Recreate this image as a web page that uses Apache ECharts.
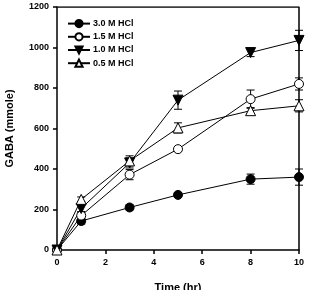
<!DOCTYPE html>
<html>
<head>
<meta charset="utf-8">
<script src="https://cdn.jsdelivr.net/npm/echarts@6/dist/echarts.min.js"></script>
<style>
  html, body { margin: 0; padding: 0; background: #fff; }
  #chart { width: 309px; height: 290px; }
</style>
</head>
<body>
<div id="chart"></div>
<script>
const times = [0, 1, 3, 5, 8, 10];
const seriesNames = ['3.0 M HCl', '1.5 M HCl', '1.0 M HCl', '0.5 M HCl'];
const hcl30 = [0, 143, 210, 272, 350, 360];
const hcl15 = [0, 170, 372, 498, 745, 820];
const hcl10 = [0, 205, 430, 740, 975, 1035];
const hcl05 = [0, 250, 440, 603, 688, 712];
const err30 = [0, 15, 12, 12, 25, 40];
const err15 = [0, 15, 25, 12, 45, 30];
const err10 = [0, 15, 25, 45, 20, 50];
const err05 = [0, 12, 25, 25, 15, 30];
const yTicks = [0, 200, 400, 600, 800, 1000, 1200];

const chart = echarts.init(document.getElementById('chart'));
const font = 'Liberation Sans, Arial, sans-serif';

// error bar with caps
function errorSeries(vals, errs) {
  const data = times.map((t, i) => [t, vals[i] - errs[i], vals[i] + errs[i]]);
  return {
    type: 'custom',
    silent: true,
    z: 1,
    data: data,
    renderItem: (params, api) => {
      const lo = api.coord([api.value(0), api.value(1)]);
      const hi = api.coord([api.value(0), api.value(2)]);
      const w = 4;
      const style = { stroke: '#000', lineWidth: 1 };
      return {
        type: 'group',
        children: [
          { type: 'line', shape: { x1: lo[0], y1: lo[1], x2: hi[0], y2: hi[1] }, style },
          { type: 'line', shape: { x1: lo[0] - w, y1: lo[1], x2: lo[0] + w, y2: lo[1] }, style },
          { type: 'line', shape: { x1: hi[0] - w, y1: hi[1], x2: hi[0] + w, y2: hi[1] }, style },
        ],
      };
    },
  };
}

function lineSeries(name, vals, symbol, filled, size) {
  return {
    name: name,
    type: 'line',
    data: times.map((t, i) => [t, vals[i]]),
    symbol: symbol,
    symbolSize: size,
    showAllSymbol: true,
    z: 3,
    lineStyle: { color: '#000', width: 1 },
    itemStyle: {
      color: filled ? '#000' : '#fff',
      borderColor: '#000',
      borderWidth: 1,
      opacity: 1,
    },
  };
}

const downTri = 'path://M0,0 L10,0 L5,9 Z';
const upTri = 'path://M5,0 L10,9 L0,9 Z';

const option = {
  animation: false,
  grid: { left: 57, right: 10, top: 7, bottom: 40, show: false, outerBoundsMode: 'none', containLabel: false },
  legend: {
    orient: 'vertical',
    left: 62,
    top: 14,
    itemWidth: 22,
    itemHeight: 9,
    itemGap: 4,
    data: seriesNames,
    textStyle: { fontFamily: font, fontSize: 9, fontWeight: 'bold', color: '#000', padding: [0, 0, 0, -2] },
  },
  xAxis: {
    type: 'value',
    min: 0,
    max: 10,
    interval: 2,
    name: 'Time (hr)',
    nameLocation: 'middle',
    nameGap: 32,
    nameTextStyle: { fontFamily: font, fontSize: 11, fontWeight: 'bold', color: '#000' },
    axisLine: { onZero: false, lineStyle: { color: '#000', width: 1.5 } },
    axisTick: { show: true, length: 4, lineStyle: { color: '#000', width: 1.5 } },
    axisLabel: { fontFamily: font, fontSize: 9, fontWeight: 'bold', color: '#000', margin: 8 },
    splitLine: { show: false },
  },
  yAxis: [{
    type: 'value',
    min: yTicks[0],
    max: yTicks[yTicks.length - 1],
    interval: 200,
    name: 'GABA (mmole)',
    nameLocation: 'middle',
    nameGap: 42,
    nameTextStyle: { fontFamily: font, fontSize: 11, fontWeight: 'bold', color: '#000' },
    axisLine: { show: true, onZero: false, lineStyle: { color: '#000', width: 1.5 } },
    axisTick: { show: true, length: 4, lineStyle: { color: '#000', width: 1.5 } },
    axisLabel: { fontFamily: font, fontSize: 9, fontWeight: 'bold', color: '#000', margin: 8, formatter: v => String(v) },
    splitLine: { show: false },
  }],
  series: [
    errorSeries(hcl30, err30),
    errorSeries(hcl15, err15),
    errorSeries(hcl10, err10),
    errorSeries(hcl05, err05),
    lineSeries(seriesNames[0], hcl30, 'circle', true, 9),
    lineSeries(seriesNames[1], hcl15, 'circle', false, 9),
    lineSeries(seriesNames[2], hcl10, downTri, true, 10),
    lineSeries(seriesNames[3], hcl05, upTri, false, 10),
    {
      // top and right frame lines
      type: 'line',
      silent: true,
      symbol: 'none',
      lineStyle: { color: '#000', width: 1.5 },
      data: [[0, 1200], [10, 1200], [10, 0]],
      z: 0,
    },
  ],
};

chart.setOption(option);
</script>
</body>
</html>
